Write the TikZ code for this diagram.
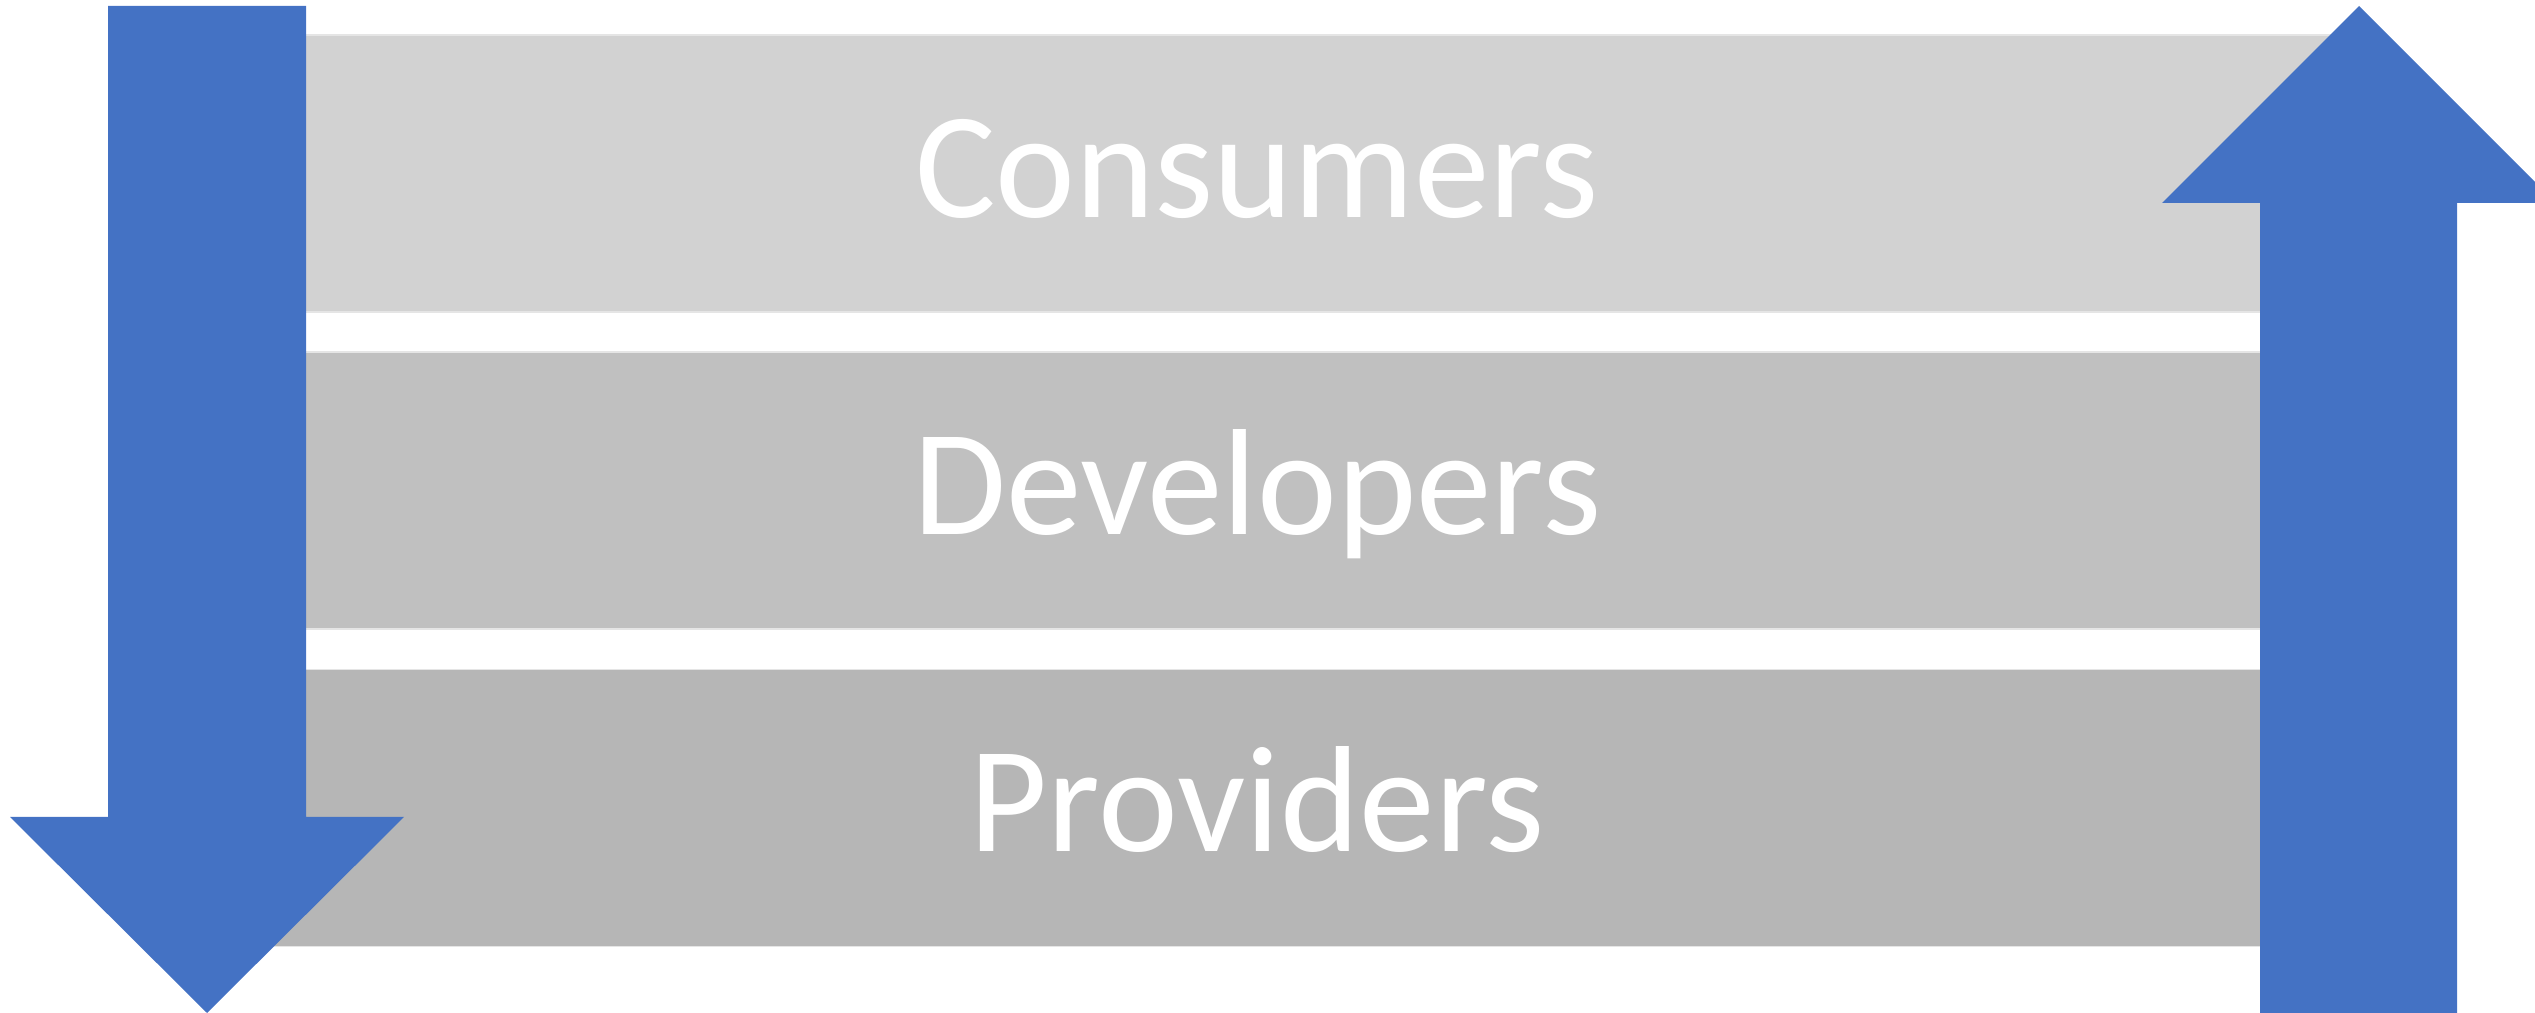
\documentclass[tikz,border=0pt]{standalone}
\usepackage{fontspec}
\setmainfont{Carlito}
\definecolor{arrowblue}{HTML}{4472C4}
\definecolor{bandA}{HTML}{D2D2D2}
\definecolor{bandB}{HTML}{C0C0C0}
\definecolor{bandC}{HTML}{B6B6B6}
\begin{document}
\begin{tikzpicture}[x=0.01cm,y=-0.01cm,
  band/.style={rectangle, draw=white!90!black, line width=0.4pt, minimum width=21.94cm, minimum height=2.77cm,
    inner sep=0pt, text=white, text height=0.87cm, text depth=0pt,
    font=\fontsize{43pt}{43pt}\selectfont},
  bigarrow/.style={fill=arrowblue, draw=none}]
\useasboundingbox (0,0) rectangle (2535,1013);
\clip (0,0) rectangle (2535,1013);
\node[band, fill=bandA] (consumers) at (1257,173.5) {Consumers};
\node[band, fill=bandB] (developers) at (1257,490.5) {Developers};
\node[band, fill=bandC] (providers) at (1257,808) {Providers};
% downward arrow (left)
\fill[bigarrow] (108,6) -- (306,6) -- (306,817) -- (404,817) -- (207,1013) -- (10,817) -- (108,817) -- cycle;
% upward arrow (right)
\fill[bigarrow] (2260,1013) -- (2457,1013) -- (2457,203) -- (2556,203) -- (2359,6) -- (2162,203) -- (2260,203) -- cycle;
\end{tikzpicture}
\end{document}
